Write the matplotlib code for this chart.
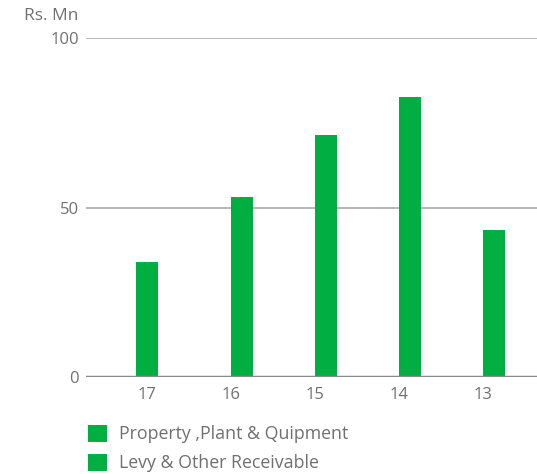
import matplotlib.pyplot as plt
from matplotlib.patches import Patch
import numpy as np

plt.rcParams['font.family'] = ['Open Sans', 'DejaVu Sans']

# data
years = ['17', '16', '15', '14', '13']
ppe = [34, 53, 71.4, 82.6, 43.4]
levy = [0, 0, 0, 0, 0]
series_names = ['Property ,Plant & Quipment', 'Levy & Other Receivable']

green = '#00ae42'
text_col = '#707070'

fig = plt.figure(figsize=(5.37, 4.74), dpi=100)
ax = fig.add_axes([86 / 537, 1 - 377 / 474, 1 - 86 / 537, (377 - 38) / 474])

x = np.arange(len(years))
w = 0.262
# first bar is centred on its label, the rest start at the label
offsets = np.array([0] + [w / 2] * (len(years) - 1))
ax.bar(x + offsets, ppe, width=w, color=green, zorder=3)
ax.bar(x + offsets + w, levy, width=w, color=green, zorder=3)

ax.set_xlim(-0.726, 4.643)
ax.set_ylim(0, 100)
ax.set_yticks([0, 50, 100])
ax.set_xticks(x)
ax.set_xticklabels(years)

for y in [50, 100]:
    ax.axhline(y, color='#aaaaaa', lw=1.2, zorder=1)
ax.axhline(0, color='#8a8a8a', lw=2.5, zorder=4)

for s in ax.spines.values():
    s.set_visible(False)
ax.tick_params(axis='both', length=0, colors=text_col, labelsize=12)
ax.tick_params(axis='y', pad=5)
ax.tick_params(axis='x', pad=7)

fig.text(24 / 537, 1 - 16 / 474, 'Rs. Mn', fontsize=12.5, color=text_col, va='center', ha='left')

handles = [Patch(facecolor=green, edgecolor='none') for _ in series_names]
leg = fig.legend(handles, series_names, loc='upper left',
                 bbox_to_anchor=(81 / 537, 1 - 418 / 474), frameon=False,
                 fontsize=12.8, handlelength=1.05, handleheight=1.05,
                 handletextpad=0.7, labelspacing=0.6, borderaxespad=0)
for t in leg.get_texts():
    t.set_color(text_col)

fig.savefig('out.png', dpi=100)
